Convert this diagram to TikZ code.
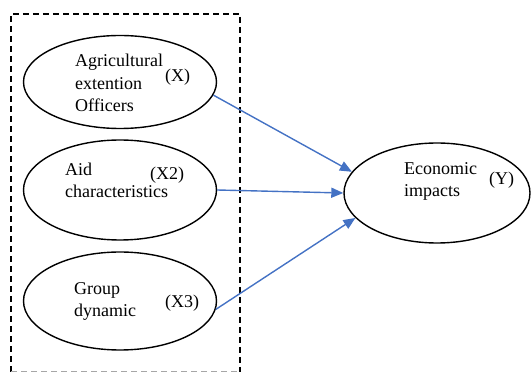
\documentclass[tikz,border=0pt]{standalone}
\usepackage{fontspec}
\setmainfont{Liberation Serif}
\usetikzlibrary{shapes.geometric,arrows.meta}

\definecolor{linkblue}{HTML}{4472C4}

\tikzset{
  var/.style = {draw, ellipse, line width = 1.4pt, inner sep = 0pt},
  lbl/.style = {anchor = base west, inner sep = 0pt, font = \fontsize{18}{22.5}\selectfont, align = left},
  link/.style = {draw = linkblue, line width = 1.4pt,
                 -{Triangle[length = 12pt, width = 10pt]}}
}

\begin{document}
\begin{tikzpicture}[x = 1pt, y = -1pt]
  \useasboundingbox (0, 0) rectangle (531, 374);

  % dashed box round the independent variables
  \draw[dashed, dash pattern = on 6pt off 4pt, line width = 1.2pt] (11, 372) -- (11, 14) -- (240, 14) -- (240, 372);
  \draw[dashed, dash pattern = on 6pt off 4pt, line width = 1pt, black!35] (11, 372) -- (240, 372);

  % ellipses
  \node[var, minimum width = 193pt, minimum height = 93pt] (ag) at (120, 82) {};
  \node[var, minimum width = 193pt, minimum height = 100pt] (ai) at (120, 190) {};
  \node[var, minimum width = 193pt, minimum height = 98pt] (gr) at (120, 301) {};
  \node[var, minimum width = 186pt, minimum height = 100pt] (ec) at (437, 193) {};

  % texts (placed by the baseline of their last line)
  \node[lbl] (agt) at (75, 112) {Agricultural\\extention\\Officers};
  \node[lbl] (agx) at (165, 82) {(X)};
  \node[lbl] (ait) at (65, 198) {Aid\\characteristics};
  \node[lbl] (aix) at (150, 180) {(X2)};
  \node[lbl] (grt) at (74, 317) {Group\\dynamic};
  \node[lbl] (grx) at (165, 308) {(X3)};
  \node[lbl] (ect) at (404, 197) {Economic\\impacts};
  \node[lbl] (ecx) at (489, 185) {(Y)};

  % arrows
  \draw[link] (ag.-8) -- (ec.166);
  \draw[link] (ai.east) -- (ec.west);
  \draw[link] (gr.-5) -- (ec.197);
\end{tikzpicture}
\end{document}
